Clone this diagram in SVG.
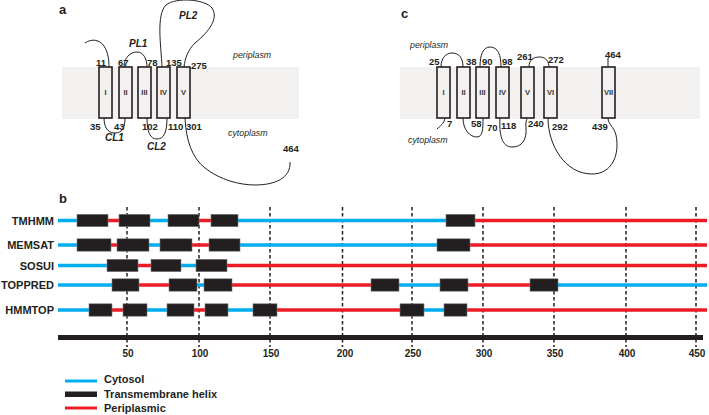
<svg xmlns="http://www.w3.org/2000/svg" width="709" height="415" viewBox="0 0 709 415">
<style>
text{font-family:"Liberation Sans",Arial,sans-serif;fill:#231f20}
.pl{font-size:13px;font-weight:bold}
.num{font-size:9.5px;font-weight:bold}
.rn{font-size:7.5px;font-weight:bold;fill:#333;text-anchor:middle}
.lp{font-size:10px;font-weight:bold;font-style:italic}
.comp{font-size:8.8px;font-style:italic}
.band{fill:#f2f1ef}
.tm{fill:#f2f1ef;stroke:#231f20;stroke-width:1.6}
.loop{fill:none;stroke:#231f20;stroke-width:1}
.row{font-size:11px;font-weight:bold;text-anchor:end}
.ax{font-size:10px;font-weight:bold;text-anchor:middle}
.lg{font-size:11px;font-weight:bold}
.cy{stroke:#00aeef;stroke-width:3.5;fill:none}
.pe{stroke:#ed1c24;stroke-width:3.5;fill:none}
.hx{fill:#231f20;stroke:#7a7a7a;stroke-width:0.6}
.dash{stroke:#231f20;stroke-width:1.5;stroke-dasharray:3.5 2.5}
</style>

<!-- Panel a -->
<g id="panel-a">
<text class="pl" x="59" y="14">a</text>
<rect class="band" x="62" y="67" width="237" height="52"/>
<text class="comp" x="233" y="58">periplasm</text>
<text class="comp" x="228" y="136">cytoplasm</text>
<g id="a-tm1"><rect class="tm" x="99" y="67" width="13" height="51"/><text class="rn" x="105.5" y="95">I</text></g>
<g id="a-tm2"><rect class="tm" x="119" y="67" width="13" height="51"/><text class="rn" x="125.5" y="95">II</text></g>
<g id="a-tm3"><rect class="tm" x="138" y="67" width="13" height="51"/><text class="rn" x="144.5" y="95">III</text></g>
<g id="a-tm4"><rect class="tm" x="157" y="67" width="13" height="51"/><text class="rn" x="163.5" y="95">IV</text></g>
<g id="a-tm5"><rect class="tm" x="177" y="67" width="13" height="51"/><text class="rn" x="183.5" y="95">V</text></g>
<g id="a-loops">
<path class="loop" d="M85,43 C92,38 100,40 104,46 C108,52 109,60 109,67"/>
<path class="loop" d="M124,67 C124,58 130,52 137,52 C144,52 147,60 147,67"/>
<path class="loop" d="M162,67 C161,45 156,15 166,5 C176,-3 205,-1 212,8 C220,20 205,35 195,43 C188,50 185,58 184,67"/>
<path class="loop" d="M104,118 C104,130 110,133 115,133 C122,133 125,128 125,118"/>
<path class="loop" d="M147,118 C147,132 150,139 157,139 C164,139 167,132 167,118"/>
<path class="loop" d="M185,118 C186,140 192,158 205,168 C220,180 240,185 255,185 C275,185 291,178 290,162"/>
</g>
<text class="num" x="96" y="66">11</text>
<text class="num" x="118" y="66">67</text>
<text class="num" x="147" y="65.5">78</text>
<text class="num" x="166" y="65.5">135</text>
<text class="num" x="191" y="68.5">275</text>
<text class="num" x="90" y="129.5">35</text>
<text class="num" x="114" y="129.5">43</text>
<text class="num" x="142" y="129.5">102</text>
<text class="num" x="168" y="129.5">110</text>
<text class="num" x="186" y="129.5">301</text>
<text class="num" x="283" y="151.5">464</text>
<text class="lp" x="129" y="47">PL1</text>
<text class="lp" x="179" y="19">PL2</text>
<text class="lp" x="105" y="141">CL1</text>
<text class="lp" x="147" y="150">CL2</text>
</g>

<!-- Panel c -->
<g id="panel-c">
<text class="pl" x="401" y="18">c</text>
<rect class="band" x="400" y="67" width="300" height="52"/>
<text class="comp" x="410" y="48">periplasm</text>
<text class="comp" x="408" y="143">cytoplasm</text>
<g id="c-tm1"><rect class="tm" x="437" y="67" width="13" height="51"/><text class="rn" x="443.5" y="95">I</text></g>
<g id="c-tm2"><rect class="tm" x="457" y="67" width="13" height="51"/><text class="rn" x="463.5" y="95">II</text></g>
<g id="c-tm3"><rect class="tm" x="476" y="67" width="13" height="51"/><text class="rn" x="482.5" y="95">III</text></g>
<g id="c-tm4"><rect class="tm" x="496" y="67" width="13" height="51"/><text class="rn" x="502.5" y="95">IV</text></g>
<g id="c-tm5"><rect class="tm" x="521" y="67" width="13" height="51"/><text class="rn" x="527.5" y="95">V</text></g>
<g id="c-tm6"><rect class="tm" x="544" y="67" width="13" height="51"/><text class="rn" x="550.5" y="95">VI</text></g>
<g id="c-tm7"><rect class="tm" x="602" y="67" width="13" height="51"/><text class="rn" x="608.5" y="95">VII</text></g>
<g id="c-loops">
<path class="loop" d="M437,129 C440,126 444,124 445,118"/>
<path class="loop" d="M441,67 C441,58 446,53 452,53 C459,53 463,58 463,67"/>
<path class="loop" d="M463,118 C463,130 470,137 477,137 C483,137 483,128 483,118"/>
<path class="loop" d="M480,67 C480,55 483,47 490,47 C498,47 501,55 501,67"/>
<path class="loop" d="M500,118 C499,135 502,147 512,147 C522,147 527,140 526,127 C525,123 527,120 527,118"/>
<path class="loop" d="M529,67 C529,60 533,57 540,57 C546,57 549,62 549,67"/>
<path class="loop" d="M548,118 C548,145 565,174 592,174 C612,174 620,155 616,135 C614,127 608,124 608,118"/>
<path class="loop" d="M608,67 L608,58"/>
</g>
<text class="num" x="429" y="65">25</text>
<text class="num" x="466" y="65">38</text>
<text class="num" x="482" y="65">90</text>
<text class="num" x="502" y="65">98</text>
<text class="num" x="517" y="60">261</text>
<text class="num" x="548" y="63">272</text>
<text class="num" x="605" y="58">464</text>
<text class="num" x="447" y="127">7</text>
<text class="num" x="471" y="127">58</text>
<text class="num" x="487" y="131">70</text>
<text class="num" x="501" y="129">118</text>
<text class="num" x="528" y="127">240</text>
<text class="num" x="552" y="130">292</text>
<text class="num" x="592" y="130">439</text>
</g>

<!-- Panel b -->
<g id="panel-b">
<text class="pl" x="59" y="203">b</text>
<g id="gridlines">
<line class="dash" x1="127" y1="207" x2="127" y2="347"/>
<line class="dash" x1="199" y1="207" x2="199" y2="347"/>
<line class="dash" x1="270" y1="207" x2="270" y2="347"/>
<line class="dash" x1="342.5" y1="207" x2="342.5" y2="347"/>
<line class="dash" x1="412" y1="207" x2="412" y2="347"/>
<line class="dash" x1="483" y1="207" x2="483" y2="347"/>
<line class="dash" x1="554" y1="207" x2="554" y2="347"/>
<line class="dash" x1="626" y1="207" x2="626" y2="347"/>
<line class="dash" x1="696" y1="207" x2="696" y2="347"/>
</g>
<g id="row-tmhmm">
<text class="row" x="54" y="224.5">TMHMM</text>
<path class="cy" d="M58,220.5H77M150,220.5H168M238,220.5H446"/>
<path class="pe" d="M108,220.5H119M199,220.5H211M475,220.5H707"/>
<rect class="hx" x="77" y="214.3" width="31" height="12.4"/>
<rect class="hx" x="119" y="214.3" width="31" height="12.4"/>
<rect class="hx" x="168" y="214.3" width="31" height="12.4"/>
<rect class="hx" x="211" y="214.3" width="27" height="12.4"/>
<rect class="hx" x="446" y="214.3" width="29" height="12.4"/>
</g>
<g id="row-memsat">
<text class="row" x="54" y="249">MEMSAT</text>
<path class="cy" d="M58,245H77M149,245H160M240,245H437"/>
<path class="pe" d="M111,245H117M192,245H209M470,245H707"/>
<rect class="hx" x="77" y="238.8" width="34" height="12.4"/>
<rect class="hx" x="117" y="238.8" width="32" height="12.4"/>
<rect class="hx" x="160" y="238.8" width="32" height="12.4"/>
<rect class="hx" x="209" y="238.8" width="31" height="12.4"/>
<rect class="hx" x="437" y="238.8" width="33" height="12.4"/>
</g>
<g id="row-sosui">
<text class="row" x="54" y="269.5">SOSUI</text>
<path class="cy" d="M58,265.5H107M181,265.5H196"/>
<path class="pe" d="M138,265.5H151M227,265.5H707"/>
<rect class="hx" x="107" y="259.3" width="31" height="12.4"/>
<rect class="hx" x="151" y="259.3" width="30" height="12.4"/>
<rect class="hx" x="196" y="259.3" width="31" height="12.4"/>
</g>
<g id="row-toppred">
<text class="row" x="54" y="289">TOPPRED</text>
<path class="cy" d="M58,285H112M197,285H204M399,285H440M558,285H707"/>
<path class="pe" d="M139,285H169M232,285H371M468,285H530"/>
<rect class="hx" x="112" y="278.8" width="27" height="12.4"/>
<rect class="hx" x="169" y="278.8" width="28" height="12.4"/>
<rect class="hx" x="204" y="278.8" width="28" height="12.4"/>
<rect class="hx" x="371" y="278.8" width="28" height="12.4"/>
<rect class="hx" x="440" y="278.8" width="28" height="12.4"/>
<rect class="hx" x="530" y="278.8" width="28" height="12.4"/>
</g>
<g id="row-hmmtop">
<text class="row" x="54" y="314">HMMTOP</text>
<path class="cy" d="M58,310H89M147,310H167M228,310H253M424,310H444"/>
<path class="pe" d="M112,310H123M194,310H205M277,310H400M467,310H707"/>
<rect class="hx" x="89" y="303.8" width="23" height="12.4"/>
<rect class="hx" x="123" y="303.8" width="24" height="12.4"/>
<rect class="hx" x="167" y="303.8" width="27" height="12.4"/>
<rect class="hx" x="205" y="303.8" width="23" height="12.4"/>
<rect class="hx" x="253" y="303.8" width="24" height="12.4"/>
<rect class="hx" x="400" y="303.8" width="24" height="12.4"/>
<rect class="hx" x="444" y="303.8" width="23" height="12.4"/>
</g>
<g id="axis">
<rect x="58" y="335" width="645" height="5" fill="#231f20"/>
<text class="ax" x="128" y="357">50</text>
<text class="ax" x="200" y="357">100</text>
<text class="ax" x="271" y="357">150</text>
<text class="ax" x="345" y="357">200</text>
<text class="ax" x="413" y="357">250</text>
<text class="ax" x="484" y="357">300</text>
<text class="ax" x="555" y="357">350</text>
<text class="ax" x="627" y="357">400</text>
<text class="ax" x="697" y="357">450</text>
</g>
<g id="legend">
<line x1="65" y1="381" x2="97" y2="381" stroke="#00aeef" stroke-width="3"/>
<rect x="65" y="391.5" width="32" height="5.5" fill="#231f20"/>
<line x1="65" y1="408" x2="97" y2="408" stroke="#ed1c24" stroke-width="3"/>
<text class="lg" x="104" y="383">Cytosol</text>
<text class="lg" x="104" y="397.5">Transmembrane helix</text>
<text class="lg" x="104" y="411.5">Periplasmic</text>
</g>
</g>
</svg>
